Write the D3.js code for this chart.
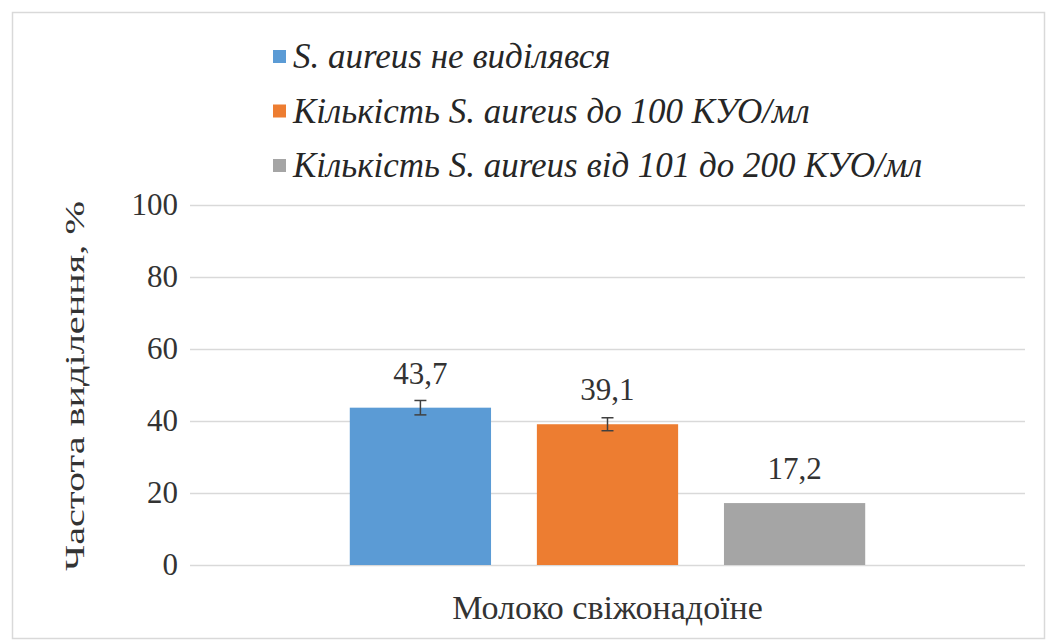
<!DOCTYPE html>
<html>
<head>
<meta charset="utf-8">
<script src="https://cdn.jsdelivr.net/npm/d3@7"></script>
<style>
  body { margin: 0; background: #fff; }
</style>
</head>
<body>
<svg id="chart" width="1051" height="644"></svg>
<script>
// data
const categories = ["Молоко свіжонадоїне"];
const seriesNames = ["S. aureus не виділявся", "Кількість S. aureus до 100 КУО/мл", "Кількість S. aureus від 101 до 200 КУО/мл"];
const seriesValues = [43.7, 39.1, 17.2];
const seriesErrors = [2.0, 1.8, 0];
const yTicks = [0, 20, 40, 60, 80, 100];
const colours = ["#5b9bd5", "#ed7d31", "#a5a5a5"];

let margin = {"left": 190, "top": 205, "bottom": 79, "right": 26};
let width = 1051;
let height = 644;
let font = "'Liberation Serif', 'Times New Roman', serif";

let svg = d3.select("#chart").attr("font-family", font);

// outer frame
svg.append("rect")
	.attr("x", 12.5).attr("y", 12.5)
	.attr("width", 1032).attr("height", 626)
	.attr("fill", "#fff")
	.attr("stroke", "#d9d9d9")
	.attr("stroke-width", 1.5);

let y = d3.scaleLinear()
	.domain([0, 100])
	.range([height - margin.bottom, margin.top]);

let x0 = d3.scaleBand()
	.domain(categories)
	.range([margin.left, width - margin.right])
	.paddingOuter(0.31);

let x1 = d3.scaleBand()
	.domain(seriesNames)
	.range([0, x0.bandwidth()])
	.paddingInner(0.245);

// grid + y ticks
let axisY = svg.append("g").attr("class", "axisY");
axisY.call(d3.axisLeft(y)
		.tickValues(yTicks)
		.tickSize(-(width - margin.left - margin.right))
		.tickPadding(12)
		.tickFormat(d3.format("d")))
	.attr("transform", `translate(${margin.left},0)`)
	.attr("font-family", font)
	.attr("font-size", 31)
	.call(g => g.select(".domain").remove())
	.call(g => g.selectAll(".tick line")
		.attr("stroke", "#d9d9d9")
		.attr("stroke-width", 1.5))
	.call(g => g.selectAll(".tick text")
		.attr("fill", "#333"));

// bars
let group = svg.append("g").attr("class", "main");
let data = seriesNames.map((s, i) => ({"name": s, "value": seriesValues[i], "err": seriesErrors[i], "colour": colours[i], "cat": categories[0]}));

let bars = group.selectAll("g.bar")
	.data(data)
	.join("g")
	.attr("class", "bar")
	.attr("transform", d => `translate(${x0(d.cat) + x1(d.name)},0)`);

bars.append("rect")
	.attr("x", 0)
	.attr("y", d => y(d.value))
	.attr("width", x1.bandwidth())
	.attr("height", d => y(0) - y(d.value))
	.attr("fill", d => d.colour);

// error bars
let errs = bars.filter(d => d.err > 0).append("g")
	.attr("stroke", "#404040")
	.attr("stroke-width", 1.5);
errs.append("line")
	.attr("x1", x1.bandwidth() / 2).attr("x2", x1.bandwidth() / 2)
	.attr("y1", d => y(d.value + d.err)).attr("y2", d => y(d.value - d.err));
errs.append("line")
	.attr("x1", x1.bandwidth() / 2 - 6).attr("x2", x1.bandwidth() / 2 + 6)
	.attr("y1", d => y(d.value + d.err)).attr("y2", d => y(d.value + d.err));
errs.append("line")
	.attr("x1", x1.bandwidth() / 2 - 6).attr("x2", x1.bandwidth() / 2 + 6)
	.attr("y1", d => y(d.value - d.err)).attr("y2", d => y(d.value - d.err));

// value labels
bars.append("text")
	.attr("x", x1.bandwidth() / 2)
	.attr("y", d => y(d.value) - 24)
	.attr("text-anchor", "middle")
	.attr("font-size", 31)
	.attr("fill", "#333")
	.text(d => String(d.value).replace(".", ","));

// category label
svg.append("g").selectAll("text.cat")
	.data(categories)
	.join("text")
	.attr("class", "cat")
	.attr("x", d => x0(d) + x0.bandwidth() / 2)
	.attr("y", height - margin.bottom + 54)
	.attr("text-anchor", "middle")
	.attr("font-size", 34)
	.attr("fill", "#333")
	.text(d => d);

// y title
svg.append("text")
	.attr("transform", `translate(84,${(margin.top + height - margin.bottom) / 2 + 1}) rotate(-90)`)
	.attr("text-anchor", "middle")
	.attr("font-size", 28)
	.attr("textLength", 370)
	.attr("lengthAdjust", "spacingAndGlyphs")
	.attr("fill", "#333")
	.text("Частота виділення, %");

// legend
let legend = svg.append("g").attr("class", "legend").attr("transform", "translate(273,57)");
let items = legend.selectAll("g")
	.data(seriesNames)
	.join("g")
	.attr("transform", (d, i) => `translate(0,${i * 54.5})`);
items.append("rect")
	.attr("x", 0).attr("y", -7)
	.attr("width", 13).attr("height", 13)
	.attr("fill", (d, i) => colours[i]);
items.append("text")
	.attr("x", 20)
	.attr("dy", 11)
	.attr("font-size", 35)
	.attr("font-style", "italic")
	.attr("fill", "#262626")
	.text(d => d);
</script>
</body>
</html>
